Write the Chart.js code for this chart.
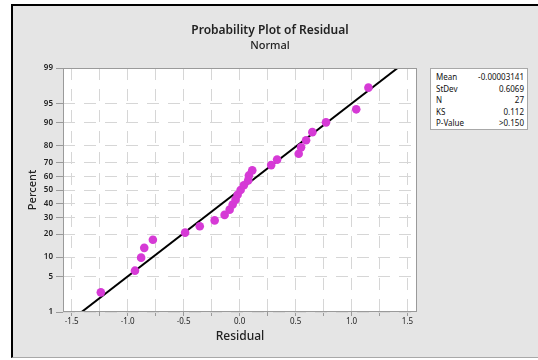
<!DOCTYPE html>
<html>
<head>
<meta charset="utf-8">
<script src="https://cdn.jsdelivr.net/npm/chart.js@4"></script>
<style>
  body { margin: 0; background: #fff; font-family: "Noto Sans", sans-serif; }
  #panel {
    position: absolute; left: 11px; top: 4px; width: 527px; height: 354px;
    box-sizing: border-box; background: #e5e5e5;
    border-left: 2px solid #000; border-top: 2px solid #000; border-bottom: 1px solid #a8a8a8;
  }
  #wrap { position: absolute; left: 0; top: 0; width: 538px; height: 360px; }
  .title { position: absolute; left: 170px; width: 200px; text-align: center; color: #222; }
  #t1 { top: 21px; font-size: 12px; font-weight: 600; }
  #t2 { top: 37px; font-size: 11px; font-weight: 500; }
  #stats {
    position: absolute; left: 430px; top: 68px; width: 98px; height: 62px;
    box-sizing: border-box; background: #fff; border: 1px solid #a8a8a8;
    padding: 2px 3px 0 5px; font-size: 8px; line-height: 11.6px; color: #111;
  }
  #stats div { display: flex; justify-content: space-between; }
</style>
</head>
<body>
<div id="panel"></div>
<div id="wrap"><canvas id="chart" width="538" height="360"></canvas></div>
<div class="title" id="t1">Probability Plot of Residual</div>
<div class="title" id="t2">Normal</div>
<div id="stats"></div>
<script>
// ─── Data ────────────────────────────────────────
const residuals = [-1.24, -0.935, -0.88, -0.852, -0.775, -0.487, -0.356, -0.223, -0.134,
  -0.089, -0.062, -0.036, -0.018, 0.009, 0.038, 0.077, 0.083, 0.113, 0.282, 0.335,
  0.528, 0.549, 0.594, 0.65, 0.772, 1.042, 1.151];
const percents = [2.55, 6.2, 9.85, 13.5, 17.15, 20.8, 24.45, 28.1, 31.75, 35.4, 39.05,
  42.7, 46.35, 50, 53.65, 57.3, 60.95, 64.6, 68.25, 71.9, 75.55, 79.2, 82.85, 86.5,
  90.15, 93.8, 97.45];
const fitX = [-1.412, 1.412];
const fitPct = [1, 99];
const pctTicks = [1, 5, 10, 20, 30, 40, 50, 60, 70, 80, 90, 95, 99];
const xTicks = [-1.5, -1.25, -1.0, -0.75, -0.5, -0.25, 0, 0.25, 0.5, 0.75, 1.0, 1.25, 1.5];
const statLabels = ['Mean', 'StDev', 'N', 'KS', 'P-Value'];
const statValues = ['-0.00003141', '0.6069', '27', '0.112', '>0.150'];

// ─── Stats box ───────────────────────────────────
document.getElementById('stats').innerHTML = statLabels
  .map((l, i) => `<div><span>${l}</span><span>${statValues[i]}</span></div>`).join('');

// percent -> normal quantile (Acklam)
function probit(pct) {
  const p = pct / 100;
  const a = [-39.6968302866538, 220.946098424521, -275.928510446969, 138.357751867269, -30.6647980661472, 2.50662827745924];
  const b = [-54.4760987982241, 161.585836858041, -155.698979859887, 66.8013118877197, -13.2806815528857];
  const c = [-0.00778489400243029, -0.322396458041136, -2.40075827716184, -2.54973253934373, 4.37466414146497, 2.93816398269878];
  const d = [0.00778469570904146, 0.32246712907004, 2.445134137143, 3.75440866190742];
  const lo = 0.02425;
  let q, r;
  if (p < lo) {
    q = Math.sqrt(-2 * Math.log(p));
    return (((((c[0]*q+c[1])*q+c[2])*q+c[3])*q+c[4])*q+c[5]) / ((((d[0]*q+d[1])*q+d[2])*q+d[3])*q+1);
  }
  if (p > 1 - lo) {
    q = Math.sqrt(-2 * Math.log(1 - p));
    return -(((((c[0]*q+c[1])*q+c[2])*q+c[3])*q+c[4])*q+c[5]) / ((((d[0]*q+d[1])*q+d[2])*q+d[3])*q+1);
  }
  q = p - 0.5; r = q * q;
  return (((((a[0]*r+a[1])*r+a[2])*r+a[3])*r+a[4])*r+a[5])*q / (((((b[0]*r+b[1])*r+b[2])*r+b[3])*r+b[4])*r+1);
}

// white plot area + full frame
const framePlugin = {
  id: 'frame',
  beforeDraw(chart) {
    const { ctx, chartArea: a } = chart;
    ctx.save();
    ctx.fillStyle = '#fff';
    ctx.fillRect(a.left, a.top, a.right - a.left, a.bottom - a.top);
    ctx.restore();
  },
  afterDraw(chart) {
    const { ctx, chartArea: a } = chart;
    ctx.save();
    ctx.strokeStyle = '#9a9a9a';
    ctx.lineWidth = 1;
    ctx.strokeRect(a.left + 0.5, a.top + 0.5, a.right - a.left - 1, a.bottom - a.top - 1);
    ctx.restore();
  }
};

const tickFont = { family: "'Noto Sans', sans-serif", size: 8 };

new Chart(document.getElementById('chart'), {
  type: 'scatter',
  data: {
    datasets: [
      {
        data: residuals.map((r, i) => ({ x: r, y: probit(percents[i]) })),
        backgroundColor: '#d63ad6',
        borderWidth: 0,
        pointRadius: 4.3,
      },
      {
        data: fitX.map((x, i) => ({ x, y: probit(fitPct[i]) })),
        showLine: true,
        borderColor: '#000',
        borderWidth: 2,
        pointRadius: 0,
      },
    ],
  },
  options: {
    responsive: false,
    animation: false,
    layout: { padding: { left: 0, top: 68, right: 121, bottom: 0 } },
    plugins: { legend: { display: false }, tooltip: { enabled: false } },
    scales: {
      x: {
        min: -1.578, max: 1.585,
        afterFit: s => { s.height = 48; },
        afterBuildTicks: s => { s.ticks = xTicks.map(v => ({ value: v })); },
        ticks: {
          autoSkip: false, maxRotation: 0, padding: 1, color: '#222', font: tickFont,
          callback: v => (Math.abs(v * 2 - Math.round(v * 2)) < 1e-6 ? v.toFixed(1) : ''),
        },
        grid: { color: '#d6d6d6', lineWidth: 1, tickLength: 4, tickColor: '#9a9a9a' },
        border: { display: false, dash: [12, 9] },
        title: { display: true, text: 'Residual', color: '#222', padding: { top: 0, bottom: 16 },
          font: { family: "'Noto Sans', sans-serif", size: 12, weight: 500 } },
      },
      y: {
        min: probit(1), max: probit(99),
        afterFit: s => { s.width = 63; },
        afterBuildTicks: s => { s.ticks = pctTicks.map(p => ({ value: probit(p) })); },
        ticks: {
          autoSkip: false, padding: 3, color: '#222', font: { ...tickFont, weight: 600 },
          callback: (v, i) => pctTicks[i],
        },
        grid: { color: '#d6d6d6', lineWidth: 1, tickLength: 7, tickColor: '#9a9a9a' },
        border: { display: false, dash: [12, 9] },
        title: { display: true, text: 'Percent', color: '#222', padding: { top: 26, bottom: 0 },
          font: { family: "'Noto Sans', sans-serif", size: 11, weight: 500 } },
      },
    },
  },
  plugins: [framePlugin],
});
</script>
</body>
</html>
